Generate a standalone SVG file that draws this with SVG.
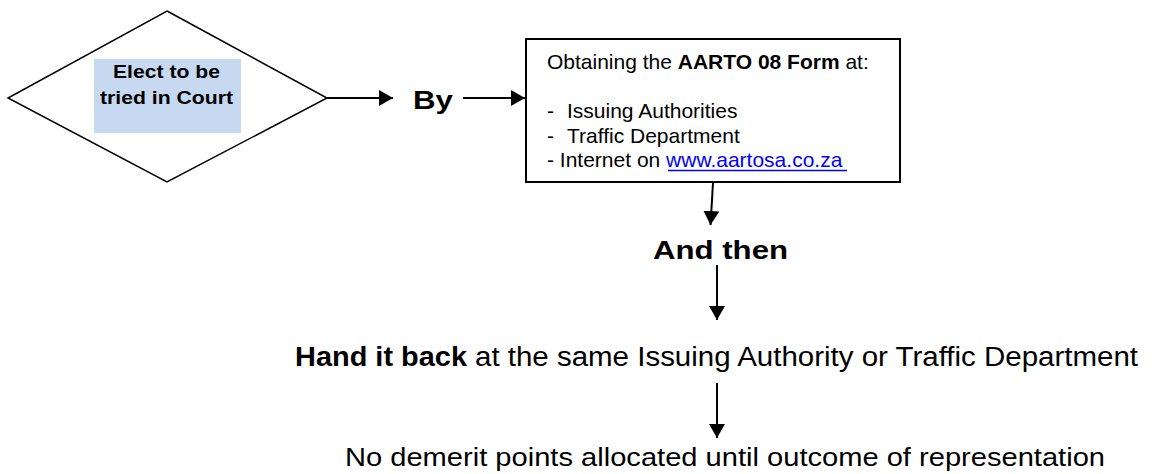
<svg xmlns="http://www.w3.org/2000/svg" width="1153" height="474" viewBox="0 0 1153 474">
<style>
text{font-family:"Liberation Sans",Arial,sans-serif;fill:#000}
.b{font-weight:bold}
.shape{fill:#fff;stroke:#000;stroke-width:1.5}
.box{fill:#fff;stroke:#000;stroke-width:2}
.conn{stroke:#000;stroke-width:2;fill:none}
.link{fill:#0000ff}
</style>
<defs>
<marker id="ah" viewBox="0 0 14 16" refX="14" refY="8" markerWidth="14" markerHeight="16" markerUnits="userSpaceOnUse" orient="auto">
<path d="M0,0 L14,8 L0,16 Z" fill="#000"/>
</marker>
</defs>
<g id="decision">
<polygon class="shape" points="167,11 327,98 167,182 8,98"/>
<rect x="94" y="59" width="147" height="74" fill="#c6d9f1"/>
<text class="b" x="113" y="78" font-size="18.6" textLength="107" lengthAdjust="spacingAndGlyphs">Elect to be</text>
<text class="b" x="100" y="104" font-size="18.6" textLength="133" lengthAdjust="spacingAndGlyphs">tried in Court</text>
</g>
<g id="by">
<text class="b" x="413" y="109" font-size="25" textLength="40" lengthAdjust="spacingAndGlyphs">By</text>
</g>
<g id="form-box">
<rect class="box" x="526" y="39" width="374" height="143"/>
<text x="547" y="69" font-size="21">Obtaining the <tspan class="b">AARTO 08 Form</tspan> at:</text>
<text x="547" y="118" font-size="21">-  <tspan x="567">Issuing Authorities</tspan></text>
<text x="547" y="142.5" font-size="21">-  <tspan x="567">Traffic Department</tspan></text>
<text x="547" y="167" font-size="21">- Internet on <tspan class="link">www.aartosa.co.za</tspan></text>
<line x1="668" y1="170.5" x2="847" y2="170.5" stroke="#0000ff" stroke-width="1.5"/>
</g>
<g id="and-then">
<text class="b" x="653" y="259" font-size="26.5" textLength="135" lengthAdjust="spacingAndGlyphs">And then</text>
</g>
<g id="hand-back">
<text class="b" x="295" y="366" font-size="27" textLength="172" lengthAdjust="spacingAndGlyphs">Hand it back</text>
<text x="475" y="366" font-size="27" textLength="663" lengthAdjust="spacingAndGlyphs">at the same Issuing Authority or Traffic Department</text>
</g>
<g id="no-demerit">
<text x="345" y="466" font-size="26" textLength="760" lengthAdjust="spacingAndGlyphs">No demerit points allocated until outcome of representation</text>
</g>
<g id="connectors">
<line class="conn" x1="327" y1="98" x2="393" y2="98" marker-end="url(#ah)"/>
<line class="conn" x1="463" y1="98" x2="525" y2="98" marker-end="url(#ah)"/>
<line class="conn" x1="713" y1="183" x2="710.5" y2="225" marker-end="url(#ah)"/>
<line class="conn" x1="717" y1="265" x2="717" y2="320" marker-end="url(#ah)"/>
<line class="conn" x1="717" y1="383" x2="717" y2="438" marker-end="url(#ah)"/>
</g>
</svg>
